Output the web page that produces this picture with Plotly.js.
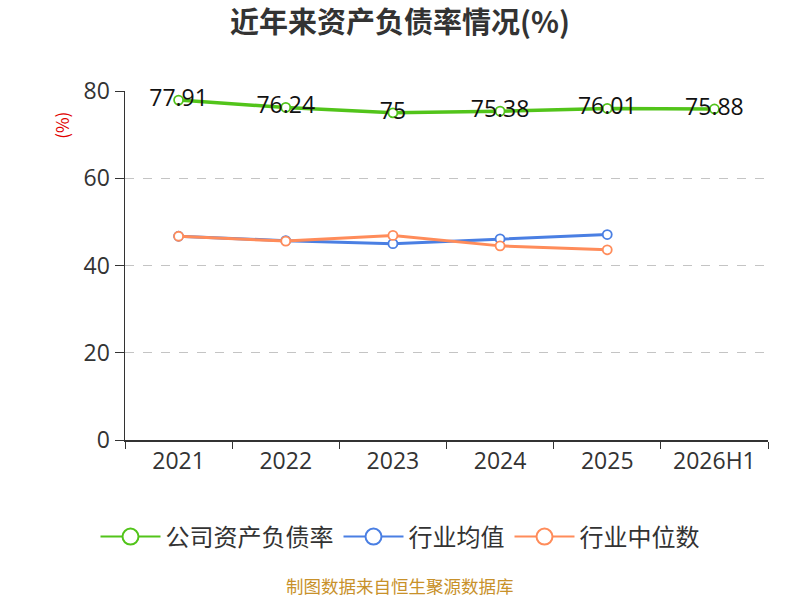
<!DOCTYPE html>
<html>
<head>
<meta charset="utf-8">
<script src="https://cdn.plot.ly/plotly-3.0.1.min.js"></script>
<style>
  html, body { margin: 0; padding: 0; background: #fff; }
  #chart { width: 800px; height: 600px; }
</style>
</head>
<body>
<div id="chart"></div>
<script>
// données
const annees = ['2021', '2022', '2023', '2024', '2025', '2026H1'];
const tauxSociete = [77.91, 76.24, 75, 75.38, 76.01, 75.88];
const moyenneSecteur = [46.7, 45.7, 45.0, 46.1, 47.1, null];
const medianeSecteur = [46.7, 45.6, 46.9, 44.5, 43.6, null];
const nomsSeries = ['公司资产负债率', '行业均值', '行业中位数'];
const couleurs = ['#52c41a', '#4a7fe3', '#ff8c5a'];

const police = '"Noto Sans CJK SC", "Noto Sans", sans-serif';
const policeChiffres = '"Open Sans", "Noto Sans CJK SC", sans-serif';

function serie(y, i, avecTexte) {
  return {
    x: annees,
    y: y,
    name: nomsSeries[i],
    type: 'scatter',
    mode: avecTexte ? 'lines+markers+text' : 'lines+markers',
    text: avecTexte ? y.map(v => String(v)) : undefined,
    textposition: 'middle center',
    textfont: { size: 23, color: '#111', family: policeChiffres },
    line: { color: couleurs[i], width: avecTexte ? 3.5 : 3 },
    marker: { size: 9, color: '#fff', line: { color: couleurs[i], width: 1.8 } },
    showlegend: false,
    hoverinfo: 'x+y',
    cliponaxis: false
  };
}

// traces fantômes pour la légende (gros cercles)
function legende(i) {
  return {
    x: [null], y: [null],
    name: nomsSeries[i],
    type: 'scatter',
    mode: 'lines+markers',
    line: { color: couleurs[i], width: 2 },
    marker: { size: 22, color: '#fff', line: { color: couleurs[i], width: 2 } }
  };
}

const data = [
  serie(moyenneSecteur, 1, false),
  serie(medianeSecteur, 2, false),
  serie(tauxSociete, 0, true),
  legende(0), legende(1), legende(2)
];

// centre de la page exprimé en coordonnées "paper"
const centrePage = (400 - 125) / 643;

const layout = {
  width: 800,
  height: 600,
  margin: { l: 125, r: 32, t: 91, b: 160, pad: 0 },
  paper_bgcolor: '#fff',
  plot_bgcolor: '#fff',
  font: { family: police, color: '#333' },
  title: {
    text: '<b>近年来资产负债率情况(%)</b>',
    x: 0.5, xanchor: 'center',
    y: 0.962, yanchor: 'middle',
    font: { size: 29, color: '#333', family: police }
  },
  xaxis: {
    type: 'category',
    showgrid: false,
    zeroline: false,
    showline: true,
    linecolor: '#333',
    linewidth: 1.5,
    ticks: 'outside',
    tickson: 'boundaries',
    ticklen: 7,
    tickcolor: '#333',
    tickfont: { size: 23, color: '#333', family: policeChiffres },
    range: [-0.5, 5.5]
  },
  yaxis: {
    range: [0, 80],
    tickvals: [0, 20, 40, 60, 80],
    showgrid: true,
    gridcolor: '#c4c4c4',
    griddash: 'dash',
    gridwidth: 1.3,
    zeroline: false,
    showline: true,
    linecolor: '#333',
    linewidth: 1.5,
    ticks: 'outside',
    ticklen: 9,
    tickcolor: '#333',
    tickfont: { size: 23, color: '#333', family: policeChiffres }
  },
  legend: {
    orientation: 'h',
    x: centrePage, xanchor: 'center',
    y: -0.278, yanchor: 'middle',
    font: { size: 24, color: '#333', family: police },
    itemwidth: 60
  },
  annotations: [
    {
      text: '(%)', xref: 'paper', yref: 'paper',
      x: -0.098, y: 0.903, xanchor: 'center', yanchor: 'middle',
      textangle: -90, showarrow: false,
      font: { size: 17, color: '#e00000', family: police }
    },
    {
      text: '制图数据来自恒生聚源数据库', xref: 'paper', yref: 'paper',
      x: centrePage, y: -0.418, xanchor: 'center', yanchor: 'middle',
      showarrow: false,
      font: { size: 17.5, color: '#c8912a', family: police }
    }
  ]
};

Plotly.newPlot('chart', data, layout, { displayModeBar: false, staticPlot: true });
</script>
</body>
</html>
